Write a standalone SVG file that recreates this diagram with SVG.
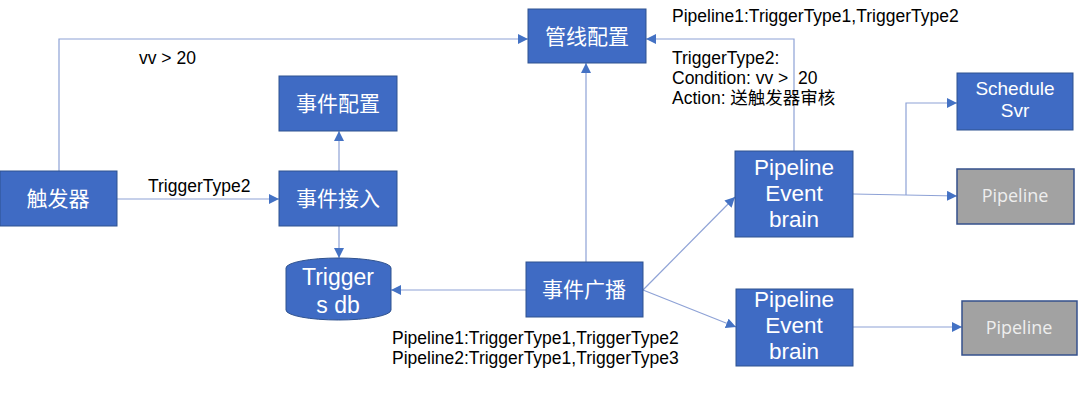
<svg xmlns="http://www.w3.org/2000/svg" width="1080" height="408" viewBox="0 0 1080 408">
<defs>
<marker id="arr" viewBox="0 0 10 10" refX="10" refY="5" markerWidth="10" markerHeight="10" markerUnits="userSpaceOnUse" orient="auto">
<path d="M0,0 L10,5 L0,10 Z" fill="#4472C4"/>
</marker>
<style>
.box{fill:#3f6bc4;stroke:#2F528F;stroke-width:1}
.gray{fill:#a2a2a2;stroke:#34508c;stroke-width:1.5}
.cn{font-family:"Noto Sans CJK SC","Noto Sans",sans-serif;font-size:21px;fill:#ffffff;text-anchor:middle}
.en{font-family:"Liberation Sans",Arial,sans-serif;font-size:22.5px;fill:#ffffff;text-anchor:middle}
.gt{font-family:"Open Sans","Noto Sans",sans-serif;font-size:18px;fill:#eeeeee;text-anchor:middle}
.lbl{font-family:"Liberation Sans","Noto Sans CJK SC",sans-serif;font-size:17.5px;fill:#000000}
.ln{fill:none;stroke:#8ea2d6;stroke-width:1.2}
</style>
</defs>
<rect width="1080" height="408" fill="#ffffff"/>
<g id="connectors">
<path class="ln" d="M59,171 V39 H528" marker-end="url(#arr)"/>
<path class="ln" d="M117,199 H279" marker-end="url(#arr)"/>
<path class="ln" d="M339,171 V131" marker-end="url(#arr)"/>
<path class="ln" d="M339,226 V258" marker-end="url(#arr)"/>
<path class="ln" d="M526,290 H391" marker-end="url(#arr)"/>
<path class="ln" d="M586,262 V63" marker-end="url(#arr)"/>
<path class="ln" d="M794,151 V39 H646" marker-end="url(#arr)"/>
<path class="ln" d="M643,290 L735,197" marker-end="url(#arr)"/>
<path class="ln" d="M643,290 L736,327" marker-end="url(#arr)"/>
<path class="ln" d="M853,194 L957,196" marker-end="url(#arr)"/>
<path class="ln" d="M906,195 V103 H957" marker-end="url(#arr)"/>
<path class="ln" d="M853,327 H962" marker-end="url(#arr)"/>
</g>
<g id="labels">
<text class="lbl" x="139" y="64">vv &gt; 20</text>
<text class="lbl" x="148" y="192">TriggerType2</text>
<text class="lbl" x="672" y="22">Pipeline1:TriggerType1,TriggerType2</text>
<text class="lbl" xml:space="preserve"><tspan x="672" y="64">TriggerType2:</tspan><tspan x="672" y="84">Condition: vv &gt;  20</tspan><tspan x="672" y="104">Action: 送触发器审核</tspan></text>
<text class="lbl"><tspan x="392" y="344">Pipeline1:TriggerType1,TriggerType2</tspan><tspan x="392" y="364">Pipeline2:TriggerType1,TriggerType3</tspan></text>
</g>
<g id="node-guanxian">
<rect class="box" x="528" y="9" width="118" height="54"/>
<text class="cn" x="587" y="44">管线配置</text>
</g>
<g id="node-shijianpeizhi">
<rect class="box" x="279" y="76" width="118" height="55"/>
<text class="cn" x="338" y="111">事件配置</text>
</g>
<g id="node-chufaqi">
<rect class="box" x="0" y="171" width="117" height="55"/>
<text class="cn" x="58" y="206">触发器</text>
</g>
<g id="node-shijianjieru">
<rect class="box" x="279" y="171" width="118" height="55"/>
<text class="cn" x="338" y="206">事件接入</text>
</g>
<g id="node-triggersdb">
<path class="box" d="M286,268 A52.5,10 0 0 1 391,268 V310 A52.5,10 0 0 1 286,310 Z"/>
<text class="en" style="font-size:23px"><tspan x="338" y="285">Trigger</tspan><tspan x="338" y="313">s db</tspan></text>
</g>
<g id="node-guangbo">
<rect class="box" x="526" y="262" width="117" height="55"/>
<text class="cn" x="584" y="297">事件广播</text>
</g>
<g id="node-peb1">
<rect class="box" x="735" y="151" width="118" height="86"/>
<text class="en"><tspan x="794" y="175">Pipeline</tspan><tspan x="794" y="201">Event</tspan><tspan x="794" y="227">brain</tspan></text>
</g>
<g id="node-peb2">
<rect class="box" x="736" y="289" width="117" height="77"/>
<text class="en"><tspan x="794" y="307">Pipeline</tspan><tspan x="794" y="333">Event</tspan><tspan x="794" y="359">brain</tspan></text>
</g>
<g id="node-schedule">
<rect class="box" x="957" y="73" width="116" height="57"/>
<text class="en" style="font-size:19px"><tspan x="1015" y="95">Schedule</tspan><tspan x="1015" y="117">Svr</tspan></text>
</g>
<g id="node-pipeline1">
<rect class="gray" x="957" y="169" width="117" height="55"/>
<text class="gt" x="1015" y="202">Pipeline</text>
</g>
<g id="node-pipeline2">
<rect class="gray" x="962" y="301" width="115" height="54"/>
<text class="gt" x="1019" y="334">Pipeline</text>
</g>
</svg>
